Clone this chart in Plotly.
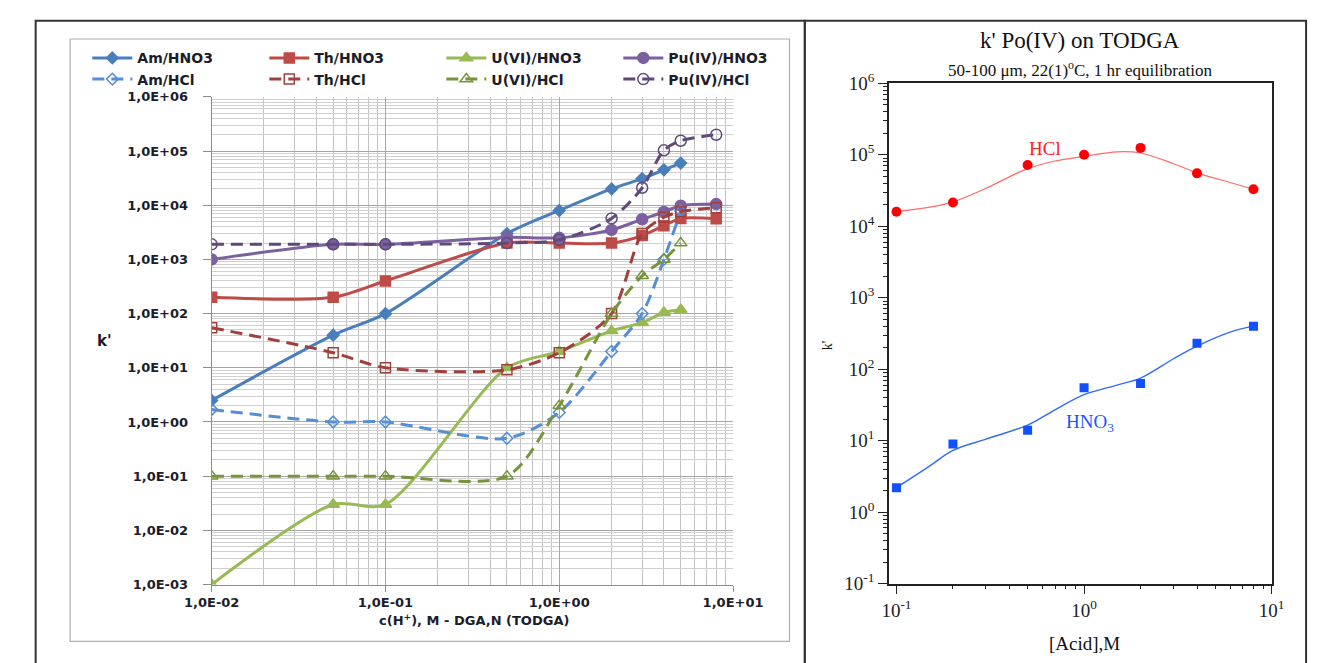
import plotly.graph_objects as go

# ---------------- data: left chart (Excel) ----------------
x_acid = [0.01, 0.05, 0.1, 0.5, 1, 2, 3, 4, 5, 8]

am_hno3 = [2.5, 40, 100, 3000, 8000, 20000, 31000, 45000, 60000]
th_hno3 = [200, 200, 400, 2000, 2000, 2000, 2750, 4200, 5700, 5600]
u_hno3 = [0.001, 0.03, 0.03, 10, 20, 48, 68, 105, 118]
pu_hno3 = [1000, 1900, 1900, 2550, 2500, 3500, 5500, 7500, 9800, 10500]

am_hcl = [1.7, 1.0, 1.0, 0.5, 1.5, 20, 100, 1000, 7800]
th_hcl = [55, 19, 10, 9.2, 19, 100, 3000, 6000, 7600, 9000]
u_hcl = [0.1, 0.1, 0.1, 0.1, 2.0, 100, 500, 1000, 2000]
pu_hcl = [1900, 1900, 1900, 2000, 2300, 5700, 21000, 103000, 155000, 200000]

left_xticks = [0.01, 0.1, 1, 10]
left_xticktext = ["1,0E-02", "1,0E-01", "1,0E+00", "1,0E+01"]
left_yticks = [1e-3, 1e-2, 1e-1, 1, 10, 100, 1e3, 1e4, 1e5, 1e6]
left_yticktext = ["1,0E-03", "1,0E-02", "1,0E-01", "1,0E+00", "1,0E+01",
                  "1,0E+02", "1,0E+03", "1,0E+04", "1,0E+05", "1,0E+06"]

# ---------------- data: right chart (Po(IV) on TODGA) ----------------
po_x = [0.1, 0.2, 0.5, 1, 2, 4, 8]
po_hcl = [16000, 21500, 72000, 100000, 125000, 55000, 33000]
po_hno3 = [2.2, 9, 14, 55, 63, 230, 400]

fit_x = [0.1, 0.15, 0.2, 0.3, 0.5, 0.7, 1, 1.5, 2, 3, 4, 6, 8]
fit_hcl = [16000, 18500, 22000, 34000, 64000, 82000, 95000, 110000, 106000, 75000, 56000, 41000, 33000]
fit_hno3 = [2.2, 4.4, 7.3, 10.5, 16.5, 27, 44, 60, 75, 140, 210, 330, 400]

right_yticks = [0.1, 1, 10, 100, 1e3, 1e4, 1e5, 1e6]
right_yticktext = ["10<sup>-1</sup>", "10<sup>0</sup>", "10<sup>1</sup>", "10<sup>2</sup>",
                   "10<sup>3</sup>", "10<sup>4</sup>", "10<sup>5</sup>", "10<sup>6</sup>"]
right_xticks = [0.1, 1, 10]
right_xticktext = ["10<sup>-1</sup>", "10<sup>0</sup>", "10<sup>1</sup>"]

W, H = 1338, 663


def px(v):
    return v / W


def py(v):
    return 1 - v / H


fig = go.Figure()

series = [
    ("Am/HNO3", am_hno3, "#4A7EBB", "diamond", "solid", 9, "legend"),
    ("Th/HNO3", th_hno3, "#BE4B48", "square", "solid", 10, "legend"),
    ("U(VI)/HNO3", u_hno3, "#98B954", "triangle-up", "solid", 11, "legend"),
    ("Pu(IV)/HNO3", pu_hno3, "#7D60A0", "circle", "solid", 11, "legend"),
    ("Am/HCl", am_hcl, "#558ED5", "diamond-open", "12px,7px", 9, "legend2"),
    ("Th/HCl", th_hcl, "#A0403D", "square-open", "12px,7px", 10, "legend2"),
    ("U(VI)/HCl", u_hcl, "#77933C", "triangle-up-open", "12px,7px", 11, "legend2"),
    ("Pu(IV)/HCl", pu_hcl, "#5F497A", "circle-open", "12px,7px", 11, "legend2"),
]
for name, ys, col, sym, dash, msz, leg in series:
    fig.add_trace(go.Scatter(
        x=x_acid[:len(ys)], y=ys, name=name, mode="lines+markers",
        line=dict(color=col, width=3, dash=dash, shape="spline", smoothing=0.8),
        marker=dict(symbol=sym, size=msz, color=col, line=dict(color=col, width=1.5)),
        legend=leg, xaxis="x", yaxis="y",
    ))

# right chart
fig.add_trace(go.Scatter(x=fit_x, y=fit_hcl, mode="lines", line=dict(color="#FF6A6A", width=1.2, shape="spline"),
                         showlegend=False, xaxis="x2", yaxis="y2", hoverinfo="skip"))
fig.add_trace(go.Scatter(x=fit_x, y=fit_hno3, mode="lines", line=dict(color="#2F6BFF", width=1.4, shape="spline"),
                         showlegend=False, xaxis="x2", yaxis="y2", hoverinfo="skip"))
fig.add_trace(go.Scatter(x=po_x, y=po_hcl, mode="markers", marker=dict(symbol="circle", size=10, color="#FF0000"),
                         showlegend=False, xaxis="x2", yaxis="y2"))
fig.add_trace(go.Scatter(x=po_x, y=po_hno3, mode="markers", marker=dict(symbol="square", size=9, color="#1050FF"),
                         showlegend=False, xaxis="x2", yaxis="y2"))

lfont = dict(family="DejaVu Sans", size=13, color="#1c1c2a", weight="bold")
serif = "Liberation Serif"
rtick = dict(family=serif, size=19, color="#222")

fig.update_layout(
    width=W, height=H, autosize=False,
    margin=dict(l=0, r=0, t=0, b=0),
    paper_bgcolor="white", plot_bgcolor="white",
    showlegend=True,
    xaxis=dict(type="log", domain=[px(192), px(737)], range=[-2, 1], anchor="y",
               tickmode="array", tickvals=left_xticks, ticktext=left_xticktext,
               tickfont=lfont, ticks="outside", ticklen=6, tickcolor="#8c8c8c",
               showline=True, linecolor="#8c8c8c", linewidth=1,
               showgrid=True, gridcolor="#a6a6a6", gridwidth=1,
               minor=dict(dtick="D1", showgrid=True, gridcolor="#c4c4c4", gridwidth=1, ticks=""),
               zeroline=False),
    yaxis=dict(type="log", domain=[py(593), py(87)], range=[-3, 6], anchor="x",
               tickmode="array", tickvals=left_yticks, ticktext=left_yticktext,
               tickfont=lfont, ticks="outside", ticklen=8, tickcolor="#8c8c8c",
               ticklabelstandoff=12,
               showline=True, linecolor="#8c8c8c", linewidth=1,
               showgrid=True, gridcolor="#a6a6a6", gridwidth=1,
               minor=dict(dtick="D1", showgrid=True, gridcolor="#d0d0d0", gridwidth=1, ticks=""),
               zeroline=False),
    xaxis2=dict(type="log", domain=[px(900), px(1300)], range=[-1.04, 1], anchor="y2",
                tickmode="array", tickvals=right_xticks, ticktext=right_xticktext,
                tickfont=rtick,
                ticks="outside", ticklen=9, tickcolor="#222", tickwidth=1.3,
                minor=dict(dtick="D1", ticks="outside", ticklen=4, tickcolor="#222"),
                showline=True, linecolor="#222", linewidth=1.5, mirror=True,
                showgrid=False, zeroline=False),
    yaxis2=dict(type="log", domain=[py(592), py(73)], range=[-1, 6], anchor="x2",
                tickmode="array", tickvals=right_yticks, ticktext=right_yticktext,
                tickfont=rtick,
                ticks="outside", ticklen=9, tickcolor="#222", tickwidth=1.3,
                minor=dict(dtick="D1", ticks="outside", ticklen=4, tickcolor="#222"),
                showline=True, linecolor="#222", linewidth=1.5, mirror=True,
                showgrid=False, zeroline=False),
    # mirrored inward ticks on top / right of the right-hand frame
    xaxis3=dict(type="log", overlaying="x2", side="top", anchor="y2", range=[-1.04, 1],
                tickmode="array", tickvals=right_xticks, showticklabels=False,
                ticks="inside", ticklen=9, tickcolor="#222", tickwidth=1.3,
                minor=dict(dtick="D1", ticks="inside", ticklen=4, tickcolor="#222"),
                showline=False, showgrid=False, zeroline=False),
    yaxis3=dict(type="log", overlaying="y2", side="right", anchor="x2", range=[-1, 6],
                tickmode="array", tickvals=right_yticks, showticklabels=False,
                ticks="inside", ticklen=9, tickcolor="#222", tickwidth=1.3,
                minor=dict(dtick="D1", ticks="inside", ticklen=4, tickcolor="#222"),
                showline=False, showgrid=False, zeroline=False),
    legend=dict(orientation="h", x=px(62), y=py(47), xanchor="left", yanchor="middle",
                entrywidth=122, font=dict(family="DejaVu Sans", size=14, color="#1c1c2a", weight="bold"),
                bgcolor="rgba(0,0,0,0)", itemwidth=40, tracegroupgap=0),
    legend2=dict(orientation="h", x=px(62), y=py(69), xanchor="left", yanchor="middle",
                 entrywidth=122, font=dict(family="DejaVu Sans", size=14, color="#1c1c2a", weight="bold"),
                 bgcolor="rgba(0,0,0,0)", itemwidth=40, tracegroupgap=0),
)

shapes = [
    dict(type="rect", xref="paper", yref="paper", x0=px(8), x1=px(812), y0=py(720), y1=py(8),
         line=dict(color="#333", width=2)),
    dict(type="rect", xref="paper", yref="paper", x0=px(812), x1=px(1336), y0=py(720), y1=py(8),
         line=dict(color="#333", width=2)),
    dict(type="rect", xref="paper", yref="paper", x0=px(44), x1=px(796), y0=py(652), y1=py(27),
         line=dict(color="#b0b0b0", width=1.2)),
]
fig.update_layout(shapes=shapes)

ann = [
    dict(text="k'", x=px(80), y=py(340), font=dict(family="DejaVu Sans", size=15, color="#1c1c2a", weight="bold")),
    dict(text="c(H<sup>+</sup>), M - DGA,N (TODGA)", x=px(466), y=py(630),
         font=dict(family="DejaVu Sans", size=13, color="#1c1c2a", weight="bold")),
    dict(text="k' Po(IV) on TODGA", x=px(1100), y=py(29), font=dict(family=serif, size=23, color="#111")),
    dict(text="50-100 \u03bcm, 22(1)<sup>o</sup>C, 1 hr equilibration", x=px(1100), y=py(58),
         font=dict(family=serif, size=17, color="#111")),
    dict(text="k'", x=px(836), y=py(345), textangle=-90, font=dict(family=serif, size=14, color="#111")),
    dict(text="[Acid],M", x=px(1104), y=py(654), font=dict(family=serif, size=19, color="#111")),
]
for a in ann:
    a.update(xref="paper", yref="paper", showarrow=False, xanchor="center", yanchor="middle")
fig.update_layout(annotations=ann)

fig.add_annotation(text="HCl", x=-0.21, y=5.09, xref="x2", yref="y2", showarrow=False,
                   font=dict(family=serif, size=19, color="#FF2020"))
fig.add_annotation(text="HNO<sub>3</sub>", x=0.03, y=1.24, xref="x2", yref="y2", showarrow=False,
                   font=dict(family=serif, size=19, color="#1a55ff"))

fig.write_html(
    "out.html",
    config={"displayModeBar": False},
    post_script="document.documentElement.style.margin='0';document.body.style.margin='0';"
                "document.body.style.overflow='hidden';document.documentElement.style.overflow='hidden';",
)
